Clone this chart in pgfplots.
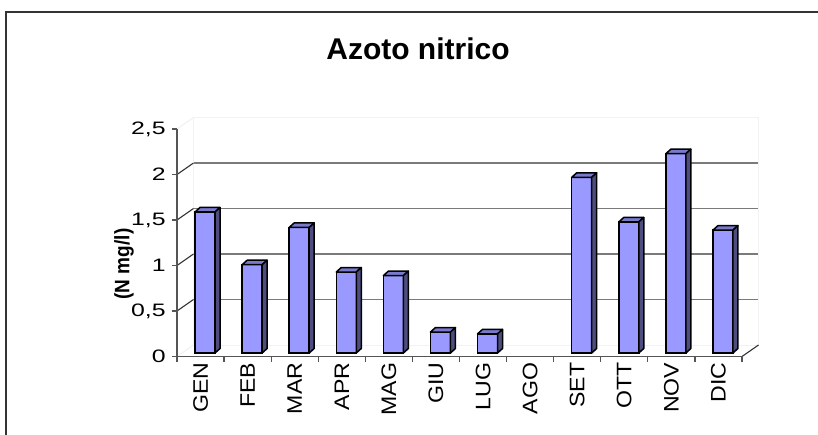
\documentclass[border=0pt]{standalone}
\usepackage{pgfplots}
\pgfplotsset{compat=1.18}
\usepackage{pgfplotstable}
\usepackage{fontspec}
\setmainfont{Liberation Sans}
\definecolor{frontc}{HTML}{9999FF}
\definecolor{topc}{HTML}{7A7ACC}
\definecolor{sidec}{HTML}{4D4D80}
\definecolor{gridc}{HTML}{7A7A7A}
\definecolor{axc}{HTML}{555555}

\pgfplotstableread{
x y
0 1.55
1 0.97
2 1.38
3 0.89
4 0.85
5 0.23
6 0.21
8 1.93
9 1.44
10 2.19
11 1.35
}\datatable

% top and side faces of a 3D column; origin = data point (category centre, value)
\pgfdeclareplotmark{side3d}{%
  \pgfsetlinewidth{1.5pt}%
  \pgfsetstrokecolor{black}%
  \pgfsetroundjoin
  \pgfsetfillcolor{topc}%
  \pgfpathmoveto{\pgfpoint{14.5pt}{3.5pt}}%
  \pgfpathlineto{\pgfpoint{19.5pt}{8pt}}%
  \pgfpathlineto{\pgfpoint{-0.5pt}{8pt}}%
  \pgfpathlineto{\pgfpoint{-5.5pt}{3.5pt}}%
  \pgfpathclose
  \pgfusepath{fill,stroke}%
  \pgfsetfillcolor{sidec}%
  \pgfpathmoveto{\pgfpoint{14.5pt}{3.5pt}}%
  \pgfpathlineto{\pgfpoint{19.5pt}{8pt}}%
  \pgfpathlineto{\pgfpoint{19.5pt}{8pt-\val*91pt}}%
  \pgfpathlineto{\pgfpoint{14.5pt}{3.5pt-\val*91pt}}%
  \pgfpathclose
  \pgfusepath{fill,stroke}%
}

\begin{document}
\begin{tikzpicture}
\useasboundingbox (0pt,0pt) rectangle (818pt,434pt);
% outer frame (right and bottom edges lie outside the picture)
\draw[line width=1.4pt, black!80] (6pt,-10pt) -- (6pt,422pt) -- (830pt,422pt);

% back wall with gridlines
\begin{axis}[
  at={(193.5pt,89pt)}, anchor=south west,
  x=47.08pt, y=91pt,
  xmin=-0.5, xmax=11.5, ymin=0, ymax=2.5,
  axis line style={draw=black!5, line width=1pt},
  xtick=\empty, ytick={0.5,1,1.5,2}, yticklabels={},
  major tick length=0pt,
  ymajorgrids, major grid style={draw=gridc, line width=1.5pt},
]
\end{axis}

% left wall and floor diagonals
\foreach \v in {0.5,1,1.5,2}{
  \draw[line width=1.1pt, black!80] (177pt,77.5pt+\v*91pt) -- (193.5pt,89pt+\v*91pt);
}
\draw[line width=1pt, black!6] (177pt,77.5pt) -- (193.5pt,89pt);
\draw[line width=1pt, black!6] (177pt,77.5pt+2.5*91pt) -- (193.5pt,89pt+2.5*91pt);
\draw[line width=1.1pt, black!80] (742pt,77.5pt) -- (758.5pt,89pt);

\begin{axis}[
  at={(177pt,77.5pt)}, anchor=south west,
  x=47.08pt, y=91pt,
  xmin=-0.5, xmax=11.5, ymin=0, ymax=2.5,
  axis lines*=left,
  axis line style={draw=axc, line width=1.3pt},
  xtick={-0.5,0.5,...,11.5},
  xticklabels={},
  extra x ticks={0,1,...,11},
  extra x tick labels={GEN,FEB,MAR,APR,MAG,GIU,LUG,AGO,SET,OTT,NOV,DIC},
  extra x tick style={major tick length=0pt},
  ytick={0,0.5,...,2.5},
  yticklabels={0,{0,5},1,{1,5},2,{2,5}},
  tick align=outside,
  major tick length=5.5pt,
  tick style={draw=axc, line width=1.3pt},
  xticklabel style={rotate=90, anchor=east, inner sep=0pt, font=\fontsize{21}{21}\selectfont, xshift=-6pt, xscale=1.1},
  yticklabel style={anchor=east, inner sep=0pt, font=\fontsize{18}{18}\selectfont, xscale=1.38, xshift=-4pt},
  clip=false,
]
\addplot[ybar, bar width=20pt, bar shift=4.5pt, yshift=3.5pt, fill=frontc, draw=black, line width=1.5pt]
  table[x=x,y=y]{\datatable};
\addplot[scatter, only marks, mark=side3d, visualization depends on={rawy \as \val},
  scatter/use mapped color={draw=black, fill=black}]
  table[x=x,y=y]{\datatable};
\end{axis}

\node[anchor=base, font=\fontsize{30}{36}\selectfont\bfseries] at (418pt,374.7pt) {Azoto nitrico};
\node[rotate=90, font=\fontsize{19}{23}\selectfont\bfseries, yscale=1.1] at (124pt,170pt) {(N mg/l)};
\end{tikzpicture}
\end{document}
